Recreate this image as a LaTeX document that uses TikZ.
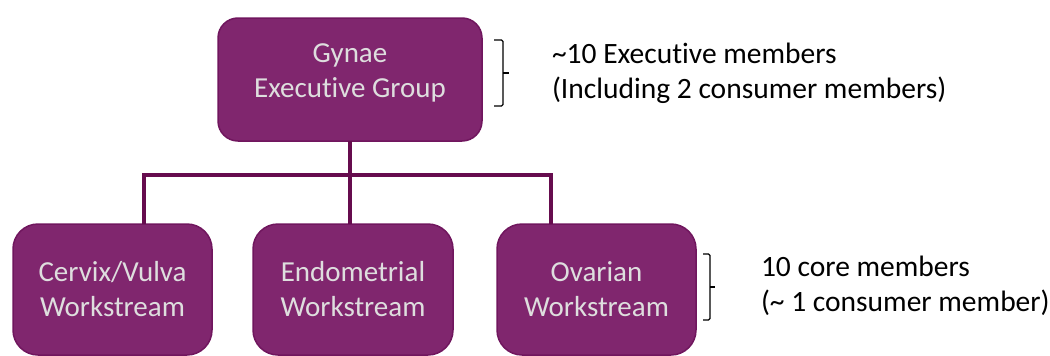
\documentclass[tikz,border=0pt]{standalone}
\usepackage{fontspec}
\setmainfont{Carlito}[Ligatures={NoCommon}]
\definecolor{boxfill}{RGB}{128,38,110}
\definecolor{boxedge}{RGB}{112,22,94}
\definecolor{boxtext}{RGB}{222,222,222}
\definecolor{linkcol}{RGB}{102,12,78}
\begin{document}
\begin{tikzpicture}[x=1pt,y=-1pt,
  box/.style={draw=boxedge, fill=boxfill, line width=1.5pt, rounded corners=25pt,
    inner sep=0pt, outer sep=0pt, align=center, text=boxtext,
    font=\fontsize{29}{35}\selectfont},
  conn/.style={draw=linkcol, line width=3.5pt},
  bracket/.style={draw=black, line width=1.2pt, rounded corners=1.5pt},
  note/.style={inner sep=0pt, outer sep=0pt, align=left, anchor=west,
    font=\fontsize{29.5}{35}\selectfont}]
\useasboundingbox (0,0) rectangle (1050,356);

% executive group (strut on last line lifts the text block)
\node[box, rounded corners=20pt, minimum width=264pt, minimum height=123pt]
  (gyn) at (350,79.5) {Gynae\\Executive Group\rule[-18pt]{0pt}{18pt}};

% workstreams
\node[box, minimum width=199pt, minimum height=131pt] (cer) at (112.5,289.5)
  {Cervix/Vulva\\Workstream};
\node[box, minimum width=200pt, minimum height=131pt] (endo) at (353,289.5)
  {Endometrial\\Workstream};
\node[box, minimum width=199pt, minimum height=131pt] (ova) at (596.5,289.5)
  {Ovarian\\Workstream};

% tree connectors
\coordinate (bus) at (350,175);
\draw[conn] (gyn.south) -- (gyn.south |- endo.north);
\draw[conn] ([xshift=31.5pt]cer.north) |- (bus) -| ([xshift=-45.5pt]ova.north);

% membership brackets
\draw[bracket] (494,40) -- (503,40) -- (503,106) -- (494,106);
\draw[bracket] (503,73) -- (509,73);
\draw[bracket] (703,254) -- (710,254) -- (710,320) -- (703,320);
\draw[bracket] (710,287) -- (715,287);

% membership notes
\node[note] (exnote) at (552,73.5)
  {\textasciitilde10 Executive members\\(Including 2 consumer members)};
\node[note] (wsnote) at (761,286)
  {10 core members\\(\textasciitilde\ 1 consumer member)};
\end{tikzpicture}
\end{document}
